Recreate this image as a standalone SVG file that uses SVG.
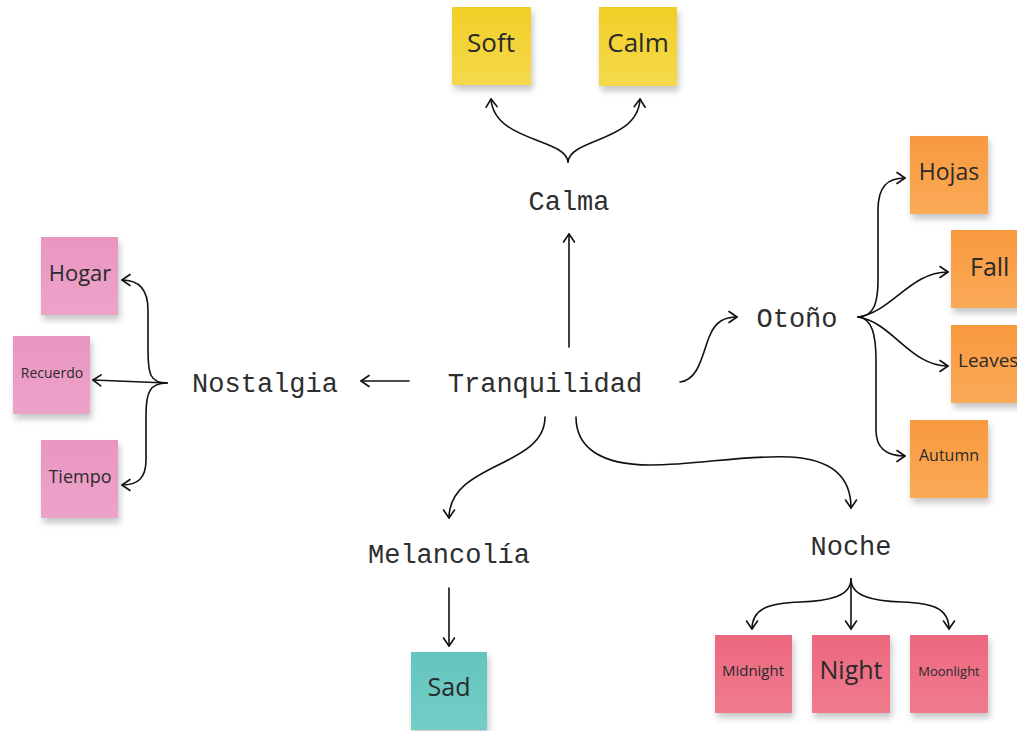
<svg xmlns="http://www.w3.org/2000/svg" width="1017" height="731" viewBox="0 0 1017 731">
<style>
  .mono { font-family: "Liberation Mono", "DejaVu Sans Mono", monospace; font-size: 27px; fill: #2e2e2e; text-anchor: middle; }
  .st { font-family: "Open Sans", "Noto Sans", sans-serif; fill: #2a2a2a; text-anchor: middle; }
  .conn path { fill: none; stroke: #111; stroke-width: 1.6; stroke-linecap: round; marker-end: url(#arr); }
  .sticky { filter: url(#sh); }
</style>
<defs>
  <filter id="sh" x="-20%" y="-20%" width="140%" height="150%">
    <feDropShadow dx="2" dy="5" stdDeviation="3" flood-color="#000" flood-opacity="0.22"/>
  </filter>
  <linearGradient id="gy" x1="0" y1="0" x2="0" y2="1"><stop offset="0" stop-color="#f1cf27"/><stop offset="1" stop-color="#f5d94a"/></linearGradient>
  <linearGradient id="gp" x1="0" y1="0" x2="0" y2="1"><stop offset="0" stop-color="#e896c1"/><stop offset="1" stop-color="#eda3c9"/></linearGradient>
  <linearGradient id="go" x1="0" y1="0" x2="0" y2="1"><stop offset="0" stop-color="#f8993e"/><stop offset="1" stop-color="#fbaa58"/></linearGradient>
  <linearGradient id="gr" x1="0" y1="0" x2="0" y2="1"><stop offset="0" stop-color="#ec6880"/><stop offset="1" stop-color="#f07b8d"/></linearGradient>
  <linearGradient id="gt" x1="0" y1="0" x2="0" y2="1"><stop offset="0" stop-color="#63c5bd"/><stop offset="1" stop-color="#73cdc6"/></linearGradient>
  <marker id="arr" viewBox="-10 -7 12 14" refX="0" refY="0" markerWidth="12" markerHeight="14" markerUnits="userSpaceOnUse" orient="auto">
    <path d="M-8,-5.5 L0,0 L-8,5.5" fill="none" stroke="#111" stroke-width="1.6" stroke-linecap="round" stroke-linejoin="round"/>
  </marker>
</defs>
<rect width="1017" height="731" fill="#ffffff"/>

<g class="conn" id="connectors">
  <path d="M569,347 L569,234"/>
  <path d="M568,162 C566,138 494,142 491,99"/>
  <path d="M568,162 C570,138 638,142 640,99"/>
  <path d="M409,381 L361,381"/>
  <path d="M167,383 C150,383 148,374 148,350 L148,310 C148,290 140,280 122,280"/>
  <path d="M167,383 L93,380"/>
  <path d="M167,383 C150,383 146,392 146,415 L146,460 C146,478 138,485 122,485"/>
  <path d="M680,382 C700,380 703,350 710,335 C716,321 725,317 737,317"/>
  <path d="M858,317 C875,317 878,300 878,280 L878,210 C878,186 888,178 905,178"/>
  <path d="M858,317 C892,312 910,272 948,272"/>
  <path d="M858,317 C892,322 910,366 948,366"/>
  <path d="M858,317 C872,318 876,335 876,360 L876,430 C876,450 888,456 905,456"/>
  <path d="M545,417 C545,468 449,462 449,518"/>
  <path d="M576,417 C576,447 600,465 650,465 C700,465 740,455 790,457 C830,459 851,475 851,508"/>
  <path d="M449,588 L449,646"/>
  <path d="M851,579 C851,596 830,601 800,602 C770,603 752,608 752,629"/>
  <path d="M851,579 L851,629"/>
  <path d="M851,579 C851,596 872,601 902,602 C932,603 949,608 949,629"/>
</g>

<g id="tranquilidad"><text class="mono" x="545" y="392">Tranquilidad</text></g>
<g id="calma"><text class="mono" x="569" y="210">Calma</text></g>
<g id="nostalgia"><text class="mono" x="265" y="392">Nostalgia</text></g>
<g id="otono"><text class="mono" x="797" y="327">Otoño</text></g>
<g id="melancolia"><text class="mono" x="449" y="563">Melancolía</text></g>
<g id="noche"><text class="mono" x="851" y="555">Noche</text></g>

<g id="soft"><rect class="sticky" x="452" y="7" width="79" height="78" fill="url(#gy)"/><text class="st" x="491" y="52" font-size="26">Soft</text></g>
<g id="calm"><rect class="sticky" x="599" y="7" width="78" height="79" fill="url(#gy)"/><text class="st" x="638" y="52" font-size="26">Calm</text></g>

<g id="hogar"><rect class="sticky" x="41" y="237" width="77" height="78" fill="url(#gp)"/><text class="st" x="80" y="281" font-size="22">Hogar</text></g>
<g id="recuerdo"><rect class="sticky" x="13" y="336" width="77" height="78" fill="url(#gp)"/><text class="st" x="52" y="378" font-size="14">Recuerdo</text></g>
<g id="tiempo"><rect class="sticky" x="41" y="440" width="77" height="78" fill="url(#gp)"/><text class="st" x="80" y="483" font-size="18">Tiempo</text></g>

<g id="hojas"><rect class="sticky" x="910" y="136" width="78" height="78" fill="url(#go)"/><text class="st" x="949" y="180" font-size="23">Hojas</text></g>
<g id="fall"><rect class="sticky" x="951" y="230" width="80" height="78" fill="url(#go)"/><text class="st" x="970" y="276" font-size="25" style="text-anchor:start">Fall</text></g>
<g id="leaves"><rect class="sticky" x="951" y="325" width="80" height="78" fill="url(#go)"/><text class="st" x="958" y="367" font-size="19" style="text-anchor:start">Leaves</text></g>
<g id="autumn"><rect class="sticky" x="910" y="420" width="78" height="78" fill="url(#go)"/><text class="st" x="949" y="461" font-size="16">Autumn</text></g>

<g id="sad"><rect class="sticky" x="411" y="652" width="76" height="78" fill="url(#gt)"/><text class="st" x="449" y="696" font-size="25">Sad</text></g>

<g id="midnight"><rect class="sticky" x="715" y="635" width="77" height="78" fill="url(#gr)"/><text class="st" x="753" y="676" font-size="15">Midnight</text></g>
<g id="night"><rect class="sticky" x="812" y="635" width="78" height="78" fill="url(#gr)"/><text class="st" x="851" y="679" font-size="25">Night</text></g>
<g id="moonlight"><rect class="sticky" x="910" y="635" width="78" height="78" fill="url(#gr)"/><text class="st" x="949" y="676" font-size="13">Moonlight</text></g>
</svg>
